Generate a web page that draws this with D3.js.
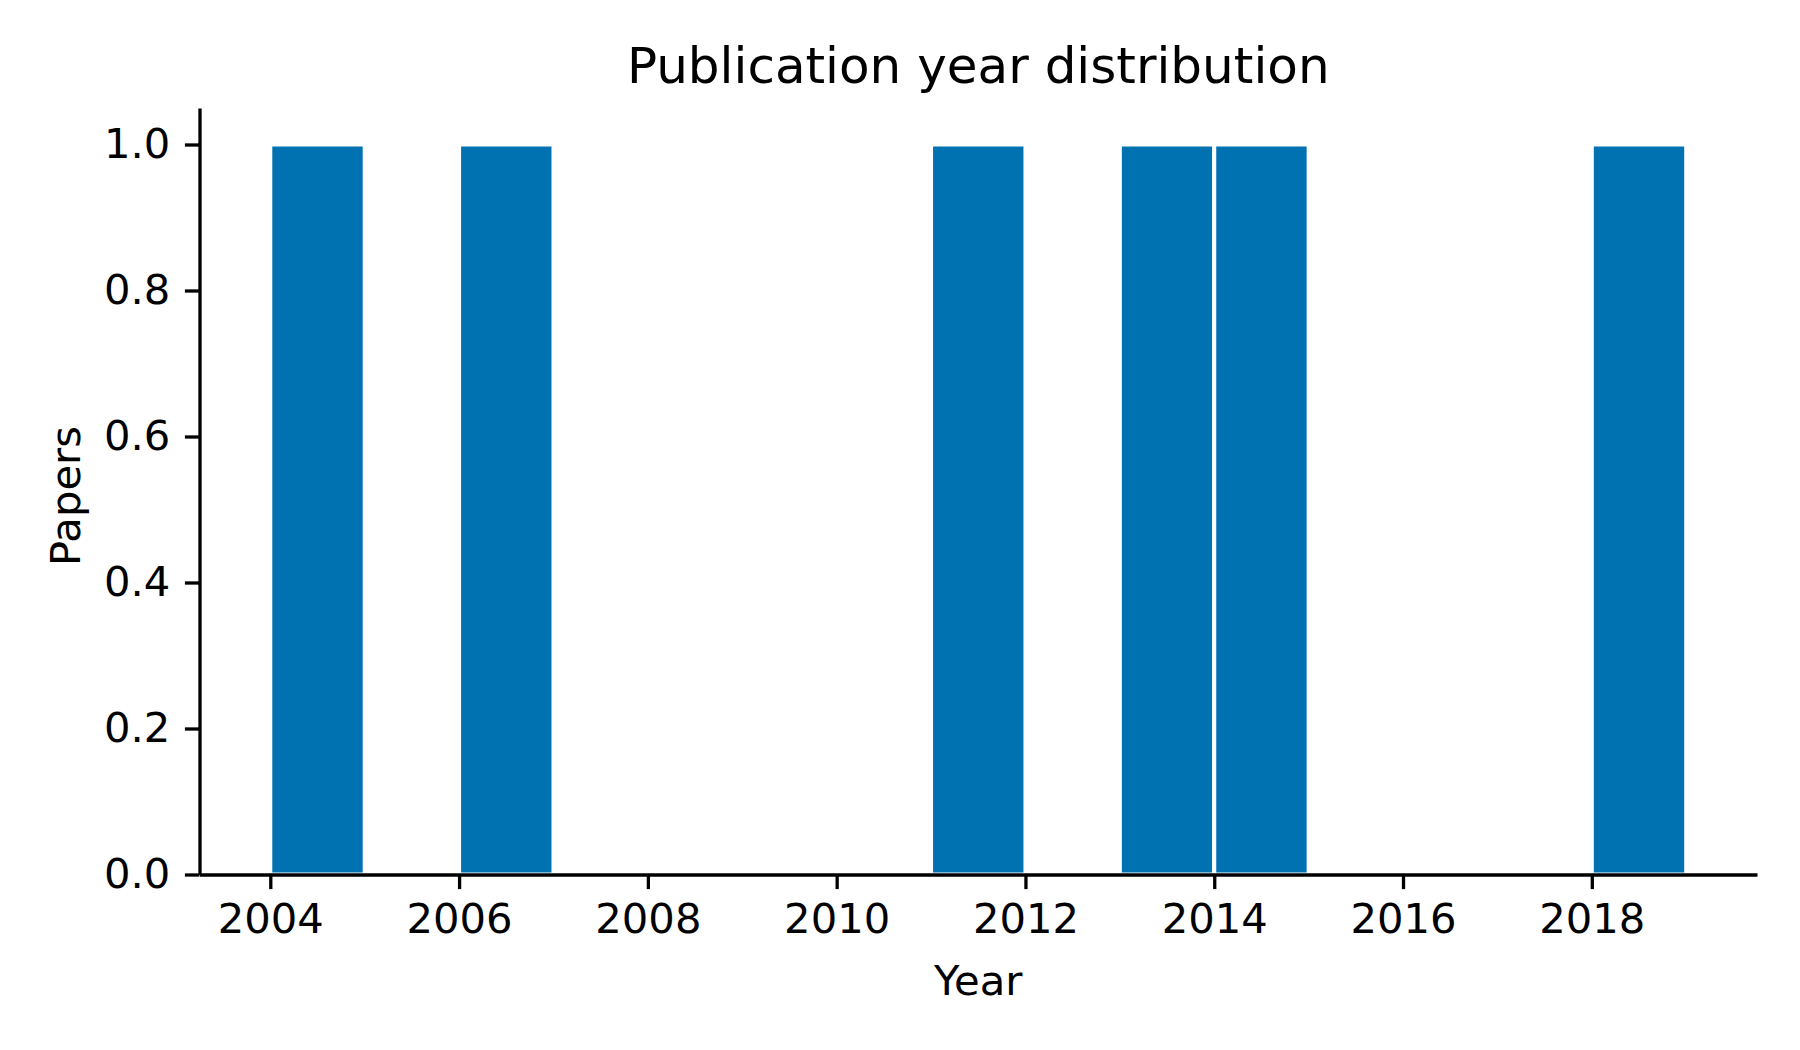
<!DOCTYPE html>
<html>
<head>
<meta charset="utf-8">
<script src="https://cdn.jsdelivr.net/npm/d3@7"></script>
<style>
  body { margin: 0; background: #fff; }
  text { font-family: "DejaVu Sans", sans-serif; fill: #000; }
</style>
</head>
<body>
<div id="hist_container"></div>
<script>
// publication years and how many papers fell in each one-year bin
const years = [2004, 2006, 2011, 2013, 2014, 2018];
const counts = [1, 1, 1, 1, 1, 1];
const xTicks = [2004, 2006, 2008, 2010, 2012, 2014, 2016, 2018];
const yTicks = [0, 0.2, 0.4, 0.6, 0.8, 1.0];

const width = 1800, height = 1050;
const margin = ({top: 108, right: 43, bottom: 175.5, left: 199.5});

const x = d3.scaleLinear()
    .domain([2003.25, 2019.75])
    .range([margin.left, width - margin.right]);

const y = d3.scaleLinear()
    .domain([0, 1.05])
    .range([height - margin.bottom, margin.top]);

const svg = d3.select("#hist_container").append("svg")
    .attr("width", width)
    .attr("height", height)
    .attr("viewBox", [0, 0, width, height]);

// bars
svg.append("g")
    .selectAll("rect")
    .data(years.map((yr, i) => ({year: yr, n: counts[i]})))
    .join("rect")
    .attr("x", d => x(d.year))
    .attr("width", d => x(d.year + 1) - x(d.year))
    .attr("y", d => y(d.n))
    .attr("height", d => y(0) - y(d.n))
    .attr("fill", "#0072B2")
    .attr("stroke", "#fff")
    .attr("stroke-width", 4);

const xAxis = g => g
    .attr("transform", `translate(0,${height - margin.bottom})`)
    .call(d3.axisBottom(x).tickValues(xTicks).tickFormat(d3.format("d"))
        .tickSizeInner(14.6).tickSizeOuter(0).tickPadding(14))
    .call(g => g.select(".domain").attr("stroke-width", 3.3))
    .call(g => g.selectAll(".tick line").attr("stroke-width", 3.3))
    .call(g => g.selectAll(".tick text").attr("font-size", 41.7).attr("font-family", "DejaVu Sans"));

const yAxis = g => g
    .attr("transform", `translate(${margin.left},0)`)
    .call(d3.axisLeft(y).tickValues(yTicks).tickFormat(d3.format(".1f"))
        .tickSizeInner(14.6).tickSizeOuter(0).tickPadding(14.6))
    .call(g => g.select(".domain").attr("stroke-width", 3.3))
    .call(g => g.selectAll(".tick line").attr("stroke-width", 3.3))
    .call(g => g.selectAll(".tick text").attr("font-size", 41.7).attr("font-family", "DejaVu Sans"));

svg.append("g").call(xAxis);
svg.append("g").call(yAxis);

// title and axis labels
svg.append("text")
    .attr("x", (margin.left + width - margin.right) / 2)
    .attr("y", 83)
    .attr("text-anchor", "middle")
    .attr("font-size", 50)
    .text("Publication year distribution");

svg.append("text")
    .attr("x", (margin.left + width - margin.right) / 2)
    .attr("y", 995)
    .attr("text-anchor", "middle")
    .attr("font-size", 41.7)
    .text("Year");

svg.append("text")
    .attr("transform", `translate(80,496) rotate(-90)`)
    .attr("text-anchor", "middle")
    .attr("font-size", 41.7)
    .text("Papers");
</script>
</body>
</html>
